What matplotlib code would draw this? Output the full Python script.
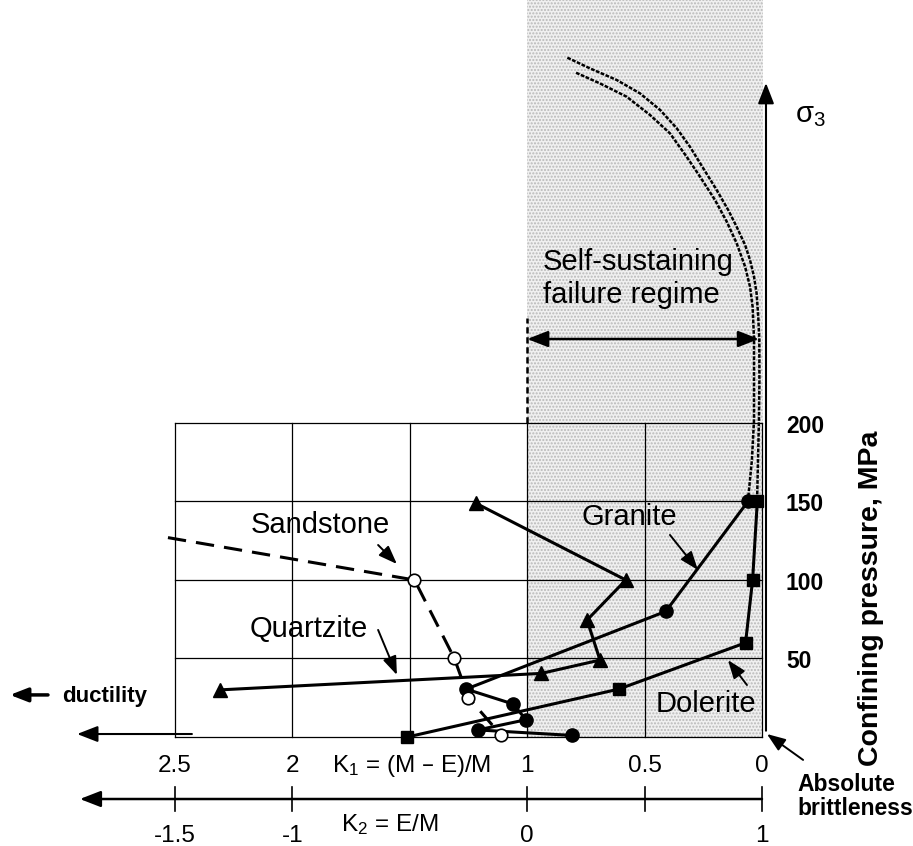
import matplotlib
matplotlib.use('Agg')
import matplotlib.pyplot as plt
from matplotlib.patches import Rectangle

plt.rcParams['font.family'] = ['Liberation Sans', 'DejaVu Sans']
plt.rcParams['mathtext.default'] = 'regular'
plt.rcParams['hatch.linewidth'] = 1.0

# ---------------- data ----------------
grid_k1 = [2.5, 2.0, 1.5, 1.0, 0.5, 0.0]
grid_p = [0, 50, 100, 150, 200]
k1_tick_values = [2.5, 2.0, 1.0, 0.5, 0.0]
k1_tick_labels = ['2.5', '2', '1', '0.5', '0']
k2_tick_positions = [2.5, 2.0, 1.0, 0.5, 0.0]
k2_label_positions = [2.5, 2.0, 1.0, 0.0]
k2_tick_labels = ['-1.5', '-1', '0', '1']
p_tick_values = [200, 150, 100, 50]
p_tick_labels = ['200', '150', '100', '50']

sandstone_k1 = [2.53, 1.48, 1.31, 1.25, 1.11]
sandstone_p = [127, 100, 50, 25, 1]
granite_k1 = [0.06, 0.41, 1.26, 1.06, 1.005, 1.21, 0.81]
granite_p = [150, 80, 30.5, 21, 11, 4.5, 1]
dolerite_k1 = [0.02, 0.04, 0.07, 0.61, 1.51]
dolerite_p = [150, 100, 60, 30.5, 0]
quartzite_k1 = [1.22, 0.58, 0.745, 0.69, 0.94, 2.31]
quartzite_p = [149, 100, 74.5, 49, 40.5, 30]

curve_a_k1 = [0.829, 0.733, 0.619, 0.520, 0.434, 0.363, 0.307, 0.250, 0.193, 0.144,
              0.108, 0.072, 0.051, 0.034, 0.023, 0.016, 0.0115, 0.011, 0.013, 0.017, 0.021]
curve_a_p = [432.7, 425.9, 418.5, 410.0, 399.4, 387.7, 376.0, 362.2, 348.4, 335.7,
             325.0, 313.4, 303.8, 293.2, 282.6, 267.7, 253.5, 227.4, 201.9, 176.4, 150.3]
curve_b_k1 = [0.792, 0.690, 0.576, 0.477, 0.392, 0.321, 0.264, 0.200, 0.150, 0.108,
              0.072, 0.051, 0.040, 0.034, 0.034, 0.043, 0.060]
curve_b_p = [423.1, 416.3, 407.8, 396.2, 384.5, 369.6, 356.9, 342.0, 328.2, 314.5,
             299.6, 286.8, 274.1, 253.5, 202.0, 176.4, 150.3]

# ---------------- figure ----------------
fig = plt.figure(figsize=(9.13, 8.46), dpi=100)
ax = fig.add_axes([0, 0, 1, 1])
ax.set_xlim(3.2453, -0.6431)
ax.set_ylim(-69.43, 469.43)
ax.axis('off')

# shaded self-sustaining region
ax.add_patch(Rectangle((-0.004, 0), 1.004, 470, facecolor='#f0f0f0',
                       edgecolor='#b8b8b8', hatch='.....', lw=0, zorder=0))

# grid
for k in grid_k1:
    ax.plot([k, k], [0, 200], color='k', lw=0.9, zorder=1)
for p in grid_p:
    ax.plot([2.5, 0], [p, p], color='k', lw=0.9, zorder=1)

# curves of self-sustaining regime
ax.plot(curve_a_k1, curve_a_p, color='k', lw=1.8, ls=(0, (1.5, 0.6)), zorder=2)
ax.plot(curve_b_k1, curve_b_p, color='k', lw=1.8, ls=(0, (1.5, 0.6)), zorder=2)

# series
ax.plot(sandstone_k1, sandstone_p, color='k', lw=2.2, ls=(0, (6, 3.3)), zorder=3)
ax.plot(sandstone_k1[1:], sandstone_p[1:], ls='none', marker='o', ms=9,
        mfc='white', mec='k', mew=1.2, zorder=6)
ax.plot(quartzite_k1, quartzite_p, color='k', lw=2.2, marker='^', ms=10, zorder=4)
ax.plot(granite_k1, granite_p, color='k', lw=2.2, marker='o', ms=9.5, zorder=4)
ax.plot(dolerite_k1, dolerite_p, color='k', lw=2.2, marker='s', ms=8.5, zorder=5)

def arrow(xy, xytext, style='-|>', lw=1.4, ms=14, hl=0.8, hw=0.3):
    ax.annotate('', xy=xy, xytext=xytext, zorder=7,
                arrowprops=dict(arrowstyle=f'{style},head_length={hl},head_width={hw}',
                                color='k', lw=lw, shrinkA=0, shrinkB=0,
                                mutation_scale=ms))

# series labels
big = 21
ax.text(1.882, 129.9, 'Sandstone', fontsize=big, ha='center', va='baseline')
arrow((1.555, 110.2), (1.635, 122.3))
ax.text(1.929, 63.7, 'Quartzite', fontsize=big, ha='center', va='baseline')
arrow((1.555, 39.5), (1.635, 68.2))
ax.text(0.566, 135.0, 'Granite', fontsize=big, ha='center', va='baseline')
arrow((0.273, 106.4), (0.392, 128.7))
ax.text(0.2385, 15.9, 'Dolerite', fontsize=big, ha='center', va='baseline', zorder=8)
arrow((0.145, 49.0), (0.064, 33.1))

# self-sustaining annotation
ax.text(0.933, 297.5, 'Self-sustaining', fontsize=big, ha='left', va='baseline')
ax.text(0.933, 276.4, 'failure regime', fontsize=big, ha='left', va='baseline')
ax.plot([1.0, 1.0], [200, 266.9], color='k', lw=1.8, ls=(0, (2.5, 1.5)), zorder=2)
arrow((0.013, 253.5), (1.0, 253.5), style='<|-|>', lw=1.8, ms=14, hl=0.9, hw=0.35)

# sigma3 axis
arrow((-0.017, 416.6), (-0.017, 4), lw=1.5, ms=14, hl=0.9, hw=0.35)
ax.text(-0.1405, 391.7, r'σ$_3$', fontsize=big, ha='left', va='baseline')

# pressure tick labels
for p, lab in zip(p_tick_values, p_tick_labels):
    ax.text(-0.102, p - 2, lab, fontsize=16.5, fontweight='bold', ha='left', va='center')
ax.text(-0.465, 88.5, 'Confining pressure, MPa', fontsize=20.5, fontweight='bold',
        rotation=90, ha='center', va='center')

# K1 axis
arrow((2.917, 1.9), (2.428, 1.9), lw=1.5, ms=14, hl=0.9, hw=0.35)
for k, lab in zip(k1_tick_values, k1_tick_labels):
    ax.text(k, -22.3, lab, fontsize=17.5, ha='center', va='baseline')
ax.text(1.491, -22.3, r'K$_1$ = (M – E)/M', fontsize=17.5, ha='center', va='baseline')

# K2 axis
arrow((2.905, -39.5), (0.0, -39.5), lw=1.8, ms=14, hl=0.9, hw=0.35)
for k in k2_tick_positions:
    ax.plot([k, k], [-31.8, -47.1], color='k', lw=1.2)
for k, lab in zip(k2_label_positions, k2_tick_labels):
    ax.text(k, -66.9, lab, fontsize=17.5, ha='center', va='baseline')
ax.text(1.584, -59.9, r'K$_2$ = E/M', fontsize=17.5, ha='center', va='baseline')

# ductility
arrow((3.203, 26.8), (3.041, 26.8), lw=2.5, ms=12, hl=0.9, hw=0.35)
ax.text(2.981, 25.5, 'ductility', fontsize=16, fontweight='bold', ha='left', va='center')

# absolute brittleness
ax.text(-0.149, -34.4, 'Absolute', fontsize=16.5, fontweight='bold', ha='left', va='baseline')
ax.text(-0.149, -49.7, 'brittleness', fontsize=16.5, fontweight='bold', ha='left', va='baseline')
arrow((-0.021, 1.9), (-0.175, -14.6), lw=1.4)

fig.savefig('out.png', dpi=100)
